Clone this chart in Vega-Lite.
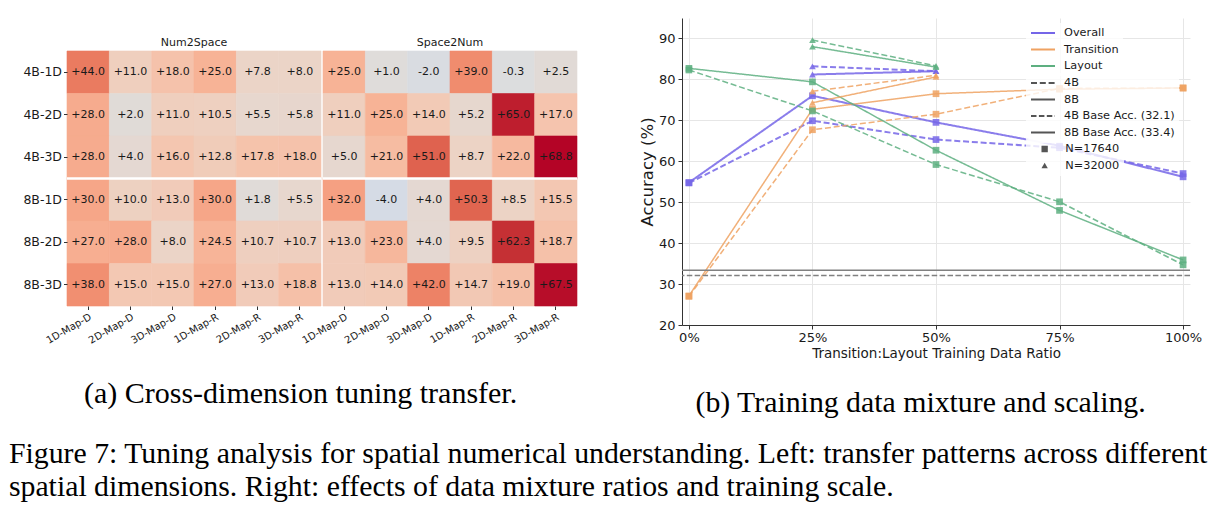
{
  "$schema": "https://vega.github.io/schema/vega-lite/v6.json",
  "background": "white",
  "padding": {"left": 8, "top": 18, "right": 5, "bottom": 5},
  "config": {
    "view": {"stroke": null},
    "font": "DejaVu Sans",
    "locale": {"number": {"decimal": ".", "thousands": ",", "grouping": [3], "currency": ["$", ""], "minus": "-"}},
    "title": {"fontWeight": "normal", "color": "#000000"},
    "axis": {"labelColor": "#1a1a1a", "titleColor": "#1a1a1a", "titleFontWeight": "normal", "tickColor": "#333333", "domainColor": "#333333"}
  },
  "resolve": {
    "scale": {"color": "independent", "strokeDash": "independent", "shape": "independent", "fill": "independent", "stroke": "independent"},
    "legend": {"color": "independent", "strokeDash": "independent", "shape": "independent"}
  },
  "datasets": {
    "heat": [
      {"r":"4B-1D","d":"N","c":"1D-Map-D","v":44.0},{"r":"4B-1D","d":"N","c":"2D-Map-D","v":11.0},{"r":"4B-1D","d":"N","c":"3D-Map-D","v":18.0},{"r":"4B-1D","d":"N","c":"1D-Map-R","v":25.0},{"r":"4B-1D","d":"N","c":"2D-Map-R","v":7.8},{"r":"4B-1D","d":"N","c":"3D-Map-R","v":8.0},
      {"r":"4B-2D","d":"N","c":"1D-Map-D","v":28.0},{"r":"4B-2D","d":"N","c":"2D-Map-D","v":2.0},{"r":"4B-2D","d":"N","c":"3D-Map-D","v":11.0},{"r":"4B-2D","d":"N","c":"1D-Map-R","v":10.5},{"r":"4B-2D","d":"N","c":"2D-Map-R","v":5.5},{"r":"4B-2D","d":"N","c":"3D-Map-R","v":5.8},
      {"r":"4B-3D","d":"N","c":"1D-Map-D","v":28.0},{"r":"4B-3D","d":"N","c":"2D-Map-D","v":4.0},{"r":"4B-3D","d":"N","c":"3D-Map-D","v":16.0},{"r":"4B-3D","d":"N","c":"1D-Map-R","v":12.8},{"r":"4B-3D","d":"N","c":"2D-Map-R","v":17.8},{"r":"4B-3D","d":"N","c":"3D-Map-R","v":18.0},
      {"r":"8B-1D","d":"N","c":"1D-Map-D","v":30.0},{"r":"8B-1D","d":"N","c":"2D-Map-D","v":10.0},{"r":"8B-1D","d":"N","c":"3D-Map-D","v":13.0},{"r":"8B-1D","d":"N","c":"1D-Map-R","v":30.0},{"r":"8B-1D","d":"N","c":"2D-Map-R","v":1.8},{"r":"8B-1D","d":"N","c":"3D-Map-R","v":5.5},
      {"r":"8B-2D","d":"N","c":"1D-Map-D","v":27.0},{"r":"8B-2D","d":"N","c":"2D-Map-D","v":28.0},{"r":"8B-2D","d":"N","c":"3D-Map-D","v":8.0},{"r":"8B-2D","d":"N","c":"1D-Map-R","v":24.5},{"r":"8B-2D","d":"N","c":"2D-Map-R","v":10.7},{"r":"8B-2D","d":"N","c":"3D-Map-R","v":10.7},
      {"r":"8B-3D","d":"N","c":"1D-Map-D","v":38.0},{"r":"8B-3D","d":"N","c":"2D-Map-D","v":15.0},{"r":"8B-3D","d":"N","c":"3D-Map-D","v":15.0},{"r":"8B-3D","d":"N","c":"1D-Map-R","v":27.0},{"r":"8B-3D","d":"N","c":"2D-Map-R","v":13.0},{"r":"8B-3D","d":"N","c":"3D-Map-R","v":18.8},
      {"r":"4B-1D","d":"S","c":"1D-Map-D","v":25.0},{"r":"4B-1D","d":"S","c":"2D-Map-D","v":1.0},{"r":"4B-1D","d":"S","c":"3D-Map-D","v":-2.0},{"r":"4B-1D","d":"S","c":"1D-Map-R","v":39.0},{"r":"4B-1D","d":"S","c":"2D-Map-R","v":-0.3},{"r":"4B-1D","d":"S","c":"3D-Map-R","v":2.5},
      {"r":"4B-2D","d":"S","c":"1D-Map-D","v":11.0},{"r":"4B-2D","d":"S","c":"2D-Map-D","v":25.0},{"r":"4B-2D","d":"S","c":"3D-Map-D","v":14.0},{"r":"4B-2D","d":"S","c":"1D-Map-R","v":5.2},{"r":"4B-2D","d":"S","c":"2D-Map-R","v":65.0},{"r":"4B-2D","d":"S","c":"3D-Map-R","v":17.0},
      {"r":"4B-3D","d":"S","c":"1D-Map-D","v":5.0},{"r":"4B-3D","d":"S","c":"2D-Map-D","v":21.0},{"r":"4B-3D","d":"S","c":"3D-Map-D","v":51.0},{"r":"4B-3D","d":"S","c":"1D-Map-R","v":8.7},{"r":"4B-3D","d":"S","c":"2D-Map-R","v":22.0},{"r":"4B-3D","d":"S","c":"3D-Map-R","v":68.8},
      {"r":"8B-1D","d":"S","c":"1D-Map-D","v":32.0},{"r":"8B-1D","d":"S","c":"2D-Map-D","v":-4.0},{"r":"8B-1D","d":"S","c":"3D-Map-D","v":4.0},{"r":"8B-1D","d":"S","c":"1D-Map-R","v":50.3},{"r":"8B-1D","d":"S","c":"2D-Map-R","v":8.5},{"r":"8B-1D","d":"S","c":"3D-Map-R","v":15.5},
      {"r":"8B-2D","d":"S","c":"1D-Map-D","v":13.0},{"r":"8B-2D","d":"S","c":"2D-Map-D","v":23.0},{"r":"8B-2D","d":"S","c":"3D-Map-D","v":4.0},{"r":"8B-2D","d":"S","c":"1D-Map-R","v":9.5},{"r":"8B-2D","d":"S","c":"2D-Map-R","v":62.3},{"r":"8B-2D","d":"S","c":"3D-Map-R","v":18.7},
      {"r":"8B-3D","d":"S","c":"1D-Map-D","v":13.0},{"r":"8B-3D","d":"S","c":"2D-Map-D","v":14.0},{"r":"8B-3D","d":"S","c":"3D-Map-D","v":42.0},{"r":"8B-3D","d":"S","c":"1D-Map-R","v":14.7},{"r":"8B-3D","d":"S","c":"2D-Map-R","v":19.0},{"r":"8B-3D","d":"S","c":"3D-Map-R","v":67.5}
    ],
    "base": [
      {"s": "4B Base Acc. (32.1)", "acc": 32.1},
      {"s": "8B Base Acc. (33.4)", "acc": 33.4}
    ],
    "lines": [
      {"metric":"Overall","model":"8B","n":"N=17640","ratio":0,"acc":54.8},{"metric":"Overall","model":"8B","n":"N=17640","ratio":25,"acc":76.0},{"metric":"Overall","model":"8B","n":"N=17640","ratio":50,"acc":69.5},{"metric":"Overall","model":"8B","n":"N=17640","ratio":75,"acc":63.8},{"metric":"Overall","model":"8B","n":"N=17640","ratio":100,"acc":56.2},
      {"metric":"Overall","model":"4B","n":"N=17640","ratio":0,"acc":54.7},{"metric":"Overall","model":"4B","n":"N=17640","ratio":25,"acc":69.9},{"metric":"Overall","model":"4B","n":"N=17640","ratio":50,"acc":65.3},{"metric":"Overall","model":"4B","n":"N=17640","ratio":75,"acc":63.3},{"metric":"Overall","model":"4B","n":"N=17640","ratio":100,"acc":57.0},
      {"metric":"Transition","model":"8B","n":"N=17640","ratio":0,"acc":27.1},{"metric":"Transition","model":"8B","n":"N=17640","ratio":25,"acc":72.7},{"metric":"Transition","model":"8B","n":"N=17640","ratio":50,"acc":76.5},{"metric":"Transition","model":"8B","n":"N=17640","ratio":75,"acc":77.6},{"metric":"Transition","model":"8B","n":"N=17640","ratio":100,"acc":77.9},
      {"metric":"Transition","model":"4B","n":"N=17640","ratio":0,"acc":27.0},{"metric":"Transition","model":"4B","n":"N=17640","ratio":25,"acc":67.7},{"metric":"Transition","model":"4B","n":"N=17640","ratio":50,"acc":71.5},{"metric":"Transition","model":"4B","n":"N=17640","ratio":75,"acc":77.8},{"metric":"Transition","model":"4B","n":"N=17640","ratio":100,"acc":77.9},
      {"metric":"Layout","model":"8B","n":"N=17640","ratio":0,"acc":82.7},{"metric":"Layout","model":"8B","n":"N=17640","ratio":25,"acc":79.4},{"metric":"Layout","model":"8B","n":"N=17640","ratio":50,"acc":62.7},{"metric":"Layout","model":"8B","n":"N=17640","ratio":75,"acc":48.0},{"metric":"Layout","model":"8B","n":"N=17640","ratio":100,"acc":35.9},
      {"metric":"Layout","model":"4B","n":"N=17640","ratio":0,"acc":82.3},{"metric":"Layout","model":"4B","n":"N=17640","ratio":25,"acc":72.3},{"metric":"Layout","model":"4B","n":"N=17640","ratio":50,"acc":59.2},{"metric":"Layout","model":"4B","n":"N=17640","ratio":75,"acc":50.1},{"metric":"Layout","model":"4B","n":"N=17640","ratio":100,"acc":34.7},
      {"metric":"Overall","model":"8B","n":"N=32000","ratio":25,"acc":81.2},{"metric":"Overall","model":"8B","n":"N=32000","ratio":50,"acc":82.0},
      {"metric":"Overall","model":"4B","n":"N=32000","ratio":25,"acc":83.2},{"metric":"Overall","model":"4B","n":"N=32000","ratio":50,"acc":82.0},
      {"metric":"Transition","model":"8B","n":"N=32000","ratio":25,"acc":74.3},{"metric":"Transition","model":"8B","n":"N=32000","ratio":50,"acc":80.6},
      {"metric":"Transition","model":"4B","n":"N=32000","ratio":25,"acc":77.1},{"metric":"Transition","model":"4B","n":"N=32000","ratio":50,"acc":81.0},
      {"metric":"Layout","model":"8B","n":"N=32000","ratio":25,"acc":88.0},{"metric":"Layout","model":"8B","n":"N=32000","ratio":50,"acc":83.0},
      {"metric":"Layout","model":"4B","n":"N=32000","ratio":25,"acc":89.6},{"metric":"Layout","model":"4B","n":"N=32000","ratio":50,"acc":83.3}
    ]
  },
  "title": {
    "text": ["Figure 7: Tuning analysis for spatial numerical understanding. Left: transfer patterns across different", "spatial dimensions. Right: effects of data mixture ratios and training scale."],
    "orient": "bottom", "anchor": "start", "frame": "bounds", "dx": -14, "offset": 22,
    "font": "Liberation Serif", "fontSize": 29.8, "lineHeight": 33, "fontWeight": "normal", "color": "#000000"
  },
  "spacing": 60,
  "hconcat": [
    {
      "title": {"text": "(a) Cross-dimension tuning transfer.", "orient": "bottom", "anchor": "middle", "frame": "bounds", "offset": 34, "font": "Liberation Serif", "fontSize": 30, "fontWeight": "normal", "color": "#000000"},
      "spacing": 0,
      "vconcat": [
        {"width": 10, "height": 18, "data": {"values": [{}]}, "mark": {"type": "point", "opacity": 0}},
        {
          "spacing": 2,
          "bounds": "flush",
          "hconcat": [
            {
              "width": 254, "height": 255,
              "title": {"text": "Num2Space", "fontSize": 11, "font": "DejaVu Sans", "fontWeight": "normal", "offset": 3, "color": "#1a1a1a"},
              "data": {"name": "heat"},
              "transform": [{"filter": "datum.d === 'N'"}],
              "layer": [
                {
                  "mark": {"type": "rect", "strokeWidth": 0.6},
                  "encoding": {
                    "x": {"field": "c", "type": "nominal", "scale": {"domain": ["1D-Map-D","2D-Map-D","3D-Map-D","1D-Map-R","2D-Map-R","3D-Map-R"], "paddingInner": 0, "paddingOuter": 0},
                          "axis": {"title": null, "labelAngle": -30, "labelAlign": "right", "labelBaseline": "top", "labelFontSize": 10, "tickSize": 3.5, "domain": false, "labelPadding": 2, "labelOverlap": false}},
                    "y": {"field": "r", "type": "nominal", "scale": {"domain": ["4B-1D","4B-2D","4B-3D","8B-1D","8B-2D","8B-3D"], "paddingInner": 0, "paddingOuter": 0},
                          "axis": {"title": null, "labelFontSize": 12.5, "tickSize": 3.5, "domain": false, "labelPadding": 2}},
                    "fill": {"field": "v", "type": "quantitative", "legend": null,
                             "scale": {"domain": [-68.8,-34.4,-17.2,-8.6,0,8.6,17.2,25.8,34.4,43,51.6,60.2,68.8], "range": ["#3b4cc0","#8db0fe","#b8d0f9","#ccd9ee","#dddddd","#ecd3c5","#f5c4ad","#f7b194","#f49a7b","#ec7f63","#de604d","#cb3e38","#b40426"], "interpolate": "rgb"}},
                    "stroke": {"field": "v", "type": "quantitative", "legend": null,
                             "scale": {"domain": [-68.8,-34.4,-17.2,-8.6,0,8.6,17.2,25.8,34.4,43,51.6,60.2,68.8], "range": ["#3b4cc0","#8db0fe","#b8d0f9","#ccd9ee","#dddddd","#ecd3c5","#f5c4ad","#f7b194","#f49a7b","#ec7f63","#de604d","#cb3e38","#b40426"], "interpolate": "rgb"}}
                  }
                },
                {
                  "mark": {"type": "text", "fontSize": 11, "color": "#1a1a1a"},
                  "encoding": {
                    "x": {"field": "c", "type": "nominal"},
                    "y": {"field": "r", "type": "nominal"},
                    "text": {"field": "v", "type": "quantitative", "format": "+.1f"}
                  }
                },
                {
                  "data": {"values": [{}]},
                  "mark": {"type": "rule", "color": "white", "strokeWidth": 2.5},
                  "encoding": {"y": {"datum": "8B-1D", "type": "nominal", "bandPosition": 0}}
                }
              ]
            },
            {
              "width": 254, "height": 255,
              "title": {"text": "Space2Num", "fontSize": 11, "font": "DejaVu Sans", "fontWeight": "normal", "offset": 3, "color": "#1a1a1a"},
              "data": {"name": "heat"},
              "transform": [{"filter": "datum.d === 'S'"}],
              "layer": [
                {
                  "mark": {"type": "rect", "strokeWidth": 0.6},
                  "encoding": {
                    "x": {"field": "c", "type": "nominal", "scale": {"domain": ["1D-Map-D","2D-Map-D","3D-Map-D","1D-Map-R","2D-Map-R","3D-Map-R"], "paddingInner": 0, "paddingOuter": 0},
                          "axis": {"title": null, "labelAngle": -30, "labelAlign": "right", "labelBaseline": "top", "labelFontSize": 10, "tickSize": 3.5, "domain": false, "labelPadding": 2, "labelOverlap": false}},
                    "y": {"field": "r", "type": "nominal", "scale": {"domain": ["4B-1D","4B-2D","4B-3D","8B-1D","8B-2D","8B-3D"], "paddingInner": 0, "paddingOuter": 0}, "axis": null},
                    "fill": {"field": "v", "type": "quantitative", "legend": null,
                             "scale": {"domain": [-68.8,-34.4,-17.2,-8.6,0,8.6,17.2,25.8,34.4,43,51.6,60.2,68.8], "range": ["#3b4cc0","#8db0fe","#b8d0f9","#ccd9ee","#dddddd","#ecd3c5","#f5c4ad","#f7b194","#f49a7b","#ec7f63","#de604d","#cb3e38","#b40426"], "interpolate": "rgb"}},
                    "stroke": {"field": "v", "type": "quantitative", "legend": null,
                             "scale": {"domain": [-68.8,-34.4,-17.2,-8.6,0,8.6,17.2,25.8,34.4,43,51.6,60.2,68.8], "range": ["#3b4cc0","#8db0fe","#b8d0f9","#ccd9ee","#dddddd","#ecd3c5","#f5c4ad","#f7b194","#f49a7b","#ec7f63","#de604d","#cb3e38","#b40426"], "interpolate": "rgb"}}
                  }
                },
                {
                  "mark": {"type": "text", "fontSize": 11, "color": "#1a1a1a"},
                  "encoding": {
                    "x": {"field": "c", "type": "nominal"},
                    "y": {"field": "r", "type": "nominal"},
                    "text": {"field": "v", "type": "quantitative", "format": "+.1f"}
                  }
                },
                {
                  "data": {"values": [{}]},
                  "mark": {"type": "rule", "color": "white", "strokeWidth": 2.5},
                  "encoding": {"y": {"datum": "8B-1D", "type": "nominal", "bandPosition": 0}}
                }
              ]
            }
          ]
        }
      ]
    },
    {
      "width": 508, "height": 307,
      "title": {"text": "(b) Training data mixture and scaling.", "orient": "bottom", "anchor": "middle", "frame": "bounds", "offset": 28, "font": "Liberation Serif", "fontSize": 29.8, "fontWeight": "normal", "color": "#000000"},
      "encoding": {
        "y": {"field": "acc", "type": "quantitative", "scale": {"domain": [20, 95], "nice": false, "zero": false},
              "axis": {"title": "Accuracy (%)", "values": [20,30,40,50,60,70,80,90], "titleFontSize": 16.5, "labelFontSize": 13, "tickSize": 4, "labelPadding": 3, "titlePadding": 3, "gridColor": "#e6e6e6", "labelFlush": false}}
      },
      "layer": [
        {
          "data": {"name": "lines"},
          "encoding": {
            "x": {"field": "ratio", "type": "quantitative", "scale": {"domain": [-1.4, 101.4], "nice": false, "zero": false},
                  "axis": {"title": "Transition:Layout Training Data Ratio", "values": [0,25,50,75,100], "labelExpr": "datum.value + '%'", "titleFontSize": 13.5, "labelFontSize": 13, "tickSize": 4, "labelPadding": 2, "titlePadding": 2, "gridColor": "#e6e6e6", "labelFlush": false}},
            "color": {"field": "metric", "type": "nominal",
                      "scale": {"domain": ["Overall","Transition","Layout"], "range": ["#7566e8","#efa262","#5daf80"]},
                      "legend": {
                        "title": null, "orient": "none", "legendX": 344, "legendY": 5, "padding": 4,
                        "fillColor": "rgba(255,255,255,0.8)", "cornerRadius": 3,
                        "labelFontSize": 11.3, "labelFont": "DejaVu Sans", "labelColor": "#1a1a1a",
                        "symbolType": "stroke", "symbolSize": 576, "symbolStrokeWidth": 2, "labelOffset": 8,
                        "clipHeight": 12, "rowPadding": 4.5, "symbolOpacity": 1
                      }}
          },
          "layer": [
            {
              "transform": [{"filter": "datum.metric === 'Overall'"}],
              "mark": {"type": "line", "opacity": 0.85, "strokeWidth": 2},
              "encoding": {
                "strokeDash": {"field": "model", "type": "nominal",
                               "scale": {"domain": ["4B","8B","4B Base Acc. (32.1)","8B Base Acc. (33.4)"], "range": [[6,2.8],[1,0],[5.5,2.4],[1,0]]},
                               "legend": {"title": null, "orient": "none", "legendX": 344, "legendY": 55, "padding": 4,
                                          "fillColor": "rgba(255,255,255,0.8)", "cornerRadius": 3,
                                          "labelFontSize": 11.3, "labelFont": "DejaVu Sans", "labelColor": "#1a1a1a",
                                          "symbolType": "stroke", "symbolSize": 576, "symbolStrokeWidth": 2, "symbolStrokeColor": "#555555", "labelOffset": 8,
                                          "clipHeight": 12, "rowPadding": 4.5, "symbolOpacity": 1}},
                "detail": {"field": "n"}
              }
            },
            {
              "transform": [{"filter": "datum.metric !== 'Overall'"}],
              "mark": {"type": "line", "opacity": 0.85, "strokeWidth": 1.5},
              "encoding": {
                "strokeDash": {"field": "model", "type": "nominal",
                               "scale": {"domain": ["4B","8B","4B Base Acc. (32.1)","8B Base Acc. (33.4)"], "range": [[6,2.8],[1,0],[5.5,2.4],[1,0]]},
                               "legend": {"title": null, "orient": "none", "legendX": 344, "legendY": 55, "padding": 4,
                                          "fillColor": "rgba(255,255,255,0.8)", "cornerRadius": 3,
                                          "labelFontSize": 11.3, "labelFont": "DejaVu Sans", "labelColor": "#1a1a1a",
                                          "symbolType": "stroke", "symbolSize": 576, "symbolStrokeWidth": 2, "symbolStrokeColor": "#555555", "labelOffset": 8,
                                          "clipHeight": 12, "rowPadding": 4.5, "symbolOpacity": 1}},
                "detail": {"field": "n"}
              }
            },
            {
              "mark": {"type": "point", "filled": true, "opacity": 0.85, "size": 45},
              "encoding": {
                "shape": {"field": "n", "type": "nominal", "scale": {"domain": ["N=17640","N=32000"], "range": ["square","triangle-up"]},
                          "legend": {"title": null, "orient": "none", "legendX": 344, "legendY": 121, "padding": 4,
                                     "fillColor": "rgba(255,255,255,0.8)", "cornerRadius": 3,
                                     "labelFontSize": 11.3, "labelFont": "DejaVu Sans", "labelColor": "#1a1a1a",
                                     "symbolSize": 40, "symbolFillColor": "#555555", "symbolStrokeWidth": 0, "symbolOffset": 9, "labelOffset": 15,
                                     "clipHeight": 12, "rowPadding": 4.5, "symbolOpacity": 1}}
              }
            }
          ]
        },
        {
          "data": {"name": "base"},
          "mark": {"type": "rule", "color": "#808080", "strokeWidth": 1.5},
          "encoding": {
            "strokeDash": {"field": "s", "type": "nominal",
                           "scale": {"domain": ["4B","8B","4B Base Acc. (32.1)","8B Base Acc. (33.4)"], "range": [[6,2.8],[1,0],[5.5,2.4],[1,0]]},
                           "legend": {"title": null, "orient": "none", "legendX": 344, "legendY": 55, "padding": 4,
                                      "fillColor": "rgba(255,255,255,0.8)", "cornerRadius": 3,
                                      "labelFontSize": 11.3, "labelFont": "DejaVu Sans", "labelColor": "#1a1a1a",
                                      "symbolType": "stroke", "symbolSize": 576, "symbolStrokeWidth": 2, "symbolStrokeColor": "#555555", "labelOffset": 8,
                                      "clipHeight": 12, "rowPadding": 4.5, "symbolOpacity": 1}}
          }
        }
      ]
    }
  ]
}
